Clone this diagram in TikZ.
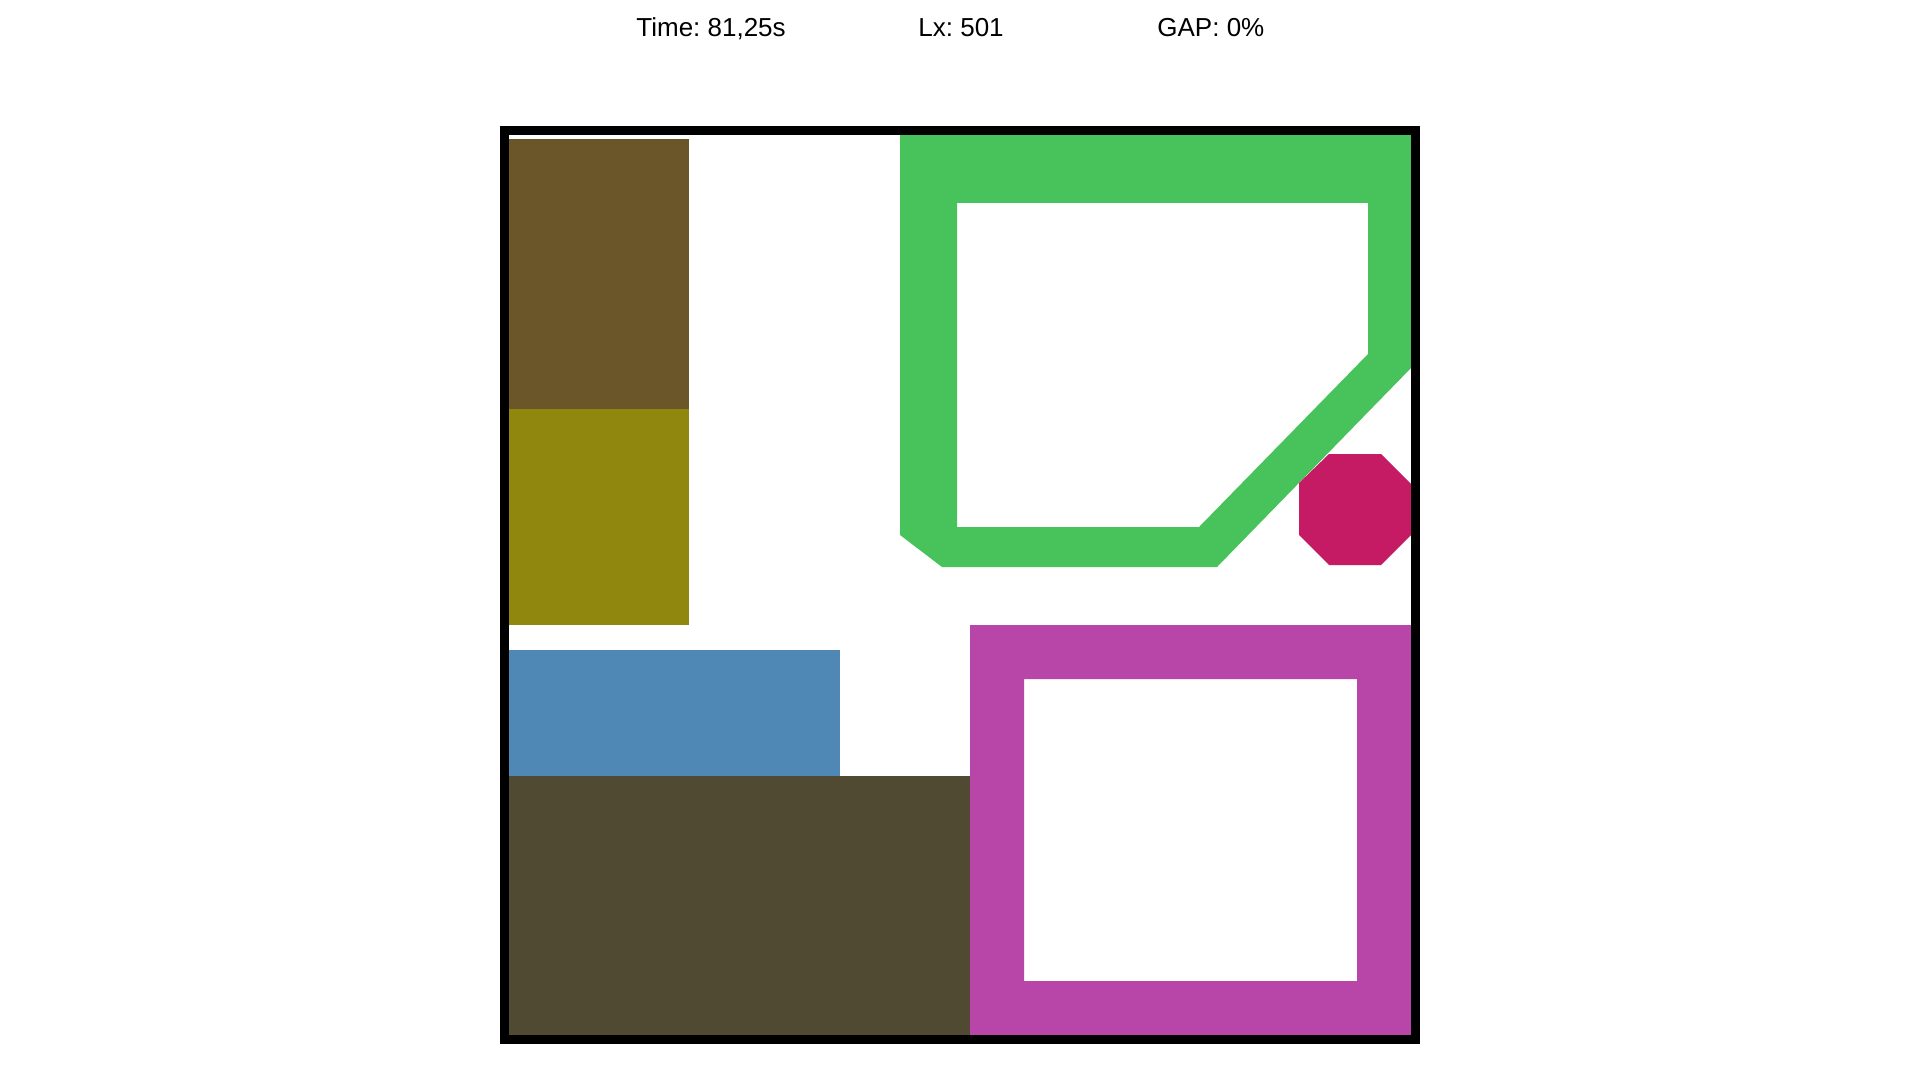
\documentclass[tikz,border=0pt]{standalone}
\usepackage{fontspec}
\setmainfont{Liberation Sans}
\usetikzlibrary{positioning}
\frenchspacing

\definecolor{brownbox}{HTML}{6B5629}
\definecolor{olivebox}{HTML}{8F870E}
\definecolor{bluebox}{HTML}{4F87B5}
\definecolor{darkbox}{HTML}{504A32}
\definecolor{greenring}{HTML}{48C35B}
\definecolor{magring}{HTML}{B846A8}
\definecolor{redoct}{HTML}{C51B64}

\begin{document}
\begin{tikzpicture}[x=0.5pt, y=-0.5pt, every node/.style={font=\fontsize{13}{16}\selectfont, inner sep=0pt}]
                % Khung ảnh
                \useasboundingbox (0,0) rectangle (1920,1080);
                \fill[white] (0,0) rectangle (1920,1080);
                
                % Dòng thông tin
                \node[anchor=base west] (time) at (636,37) {Time: 81,25s};
                \node[anchor=base west] (lx) at (918,37) {Lx: 501};
                \node[anchor=base west] (gap) at (1157,37) {GAP: 0\%};
                
                % Các khối đặc
                \fill[brownbox] (509,139) rectangle (689,409);
                \fill[olivebox] (509,409) rectangle (689,625);
                \fill[bluebox] (509,650) rectangle (840,776);
                \fill[darkbox] (509,776) rectangle (970,1035);
                
                % Vòng xanh lá
                \fill[greenring, even odd rule]
                    (900,135) -- (1411,135) -- (1411,368) -- (1217,567) -- (942,567) -- (900,535) -- cycle
                    (957,203) -- (1368,203) -- (1368,354) -- (1199,527) -- (957,527) -- cycle;
                
                % Vòng tím
                \fill[magring, even odd rule]
                    (970,625) rectangle (1411,1035)
                    (1024,679) rectangle (1357,981);
                
                % Bát giác
                \fill[redoct] (1329,454) -- (1381,454) -- (1411,484) -- (1411,535) -- (1381,565)
                    -- (1329,565) -- (1299,535) -- (1299,483) -- cycle;
                
                % Viền
                \draw[line width=4.5pt] (504.5,130.5) rectangle (1415.5,1039.5);
            \end{tikzpicture}
\end{document}
